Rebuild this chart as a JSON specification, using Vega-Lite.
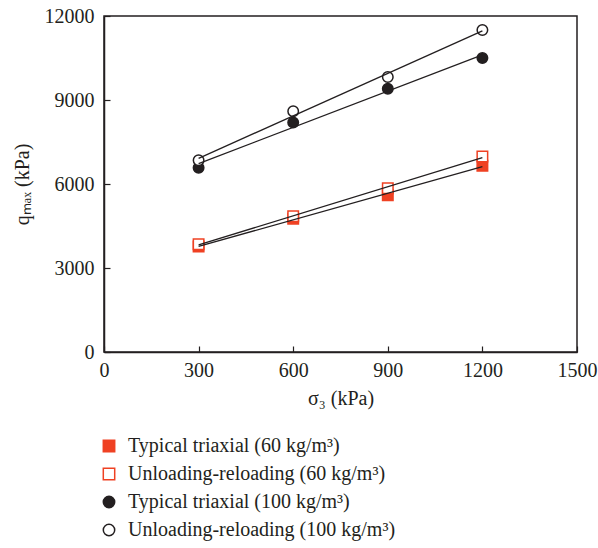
{
  "$schema": "https://vega.github.io/schema/vega-lite/v6.json",
  "width": 473,
  "height": 336,
  "autosize": {"type": "none"},
  "padding": {"left": 104, "top": 16, "right": 21, "bottom": 196},
  "background": "white",
  "config": {
    "view": {"stroke": "#231f20", "strokeWidth": 1.5},
    "axis": {
      "grid": false,
      "domainColor": "#231f20",
      "domainWidth": 1.5,
      "tickColor": "#231f20",
      "tickWidth": 1.2,
      "tickSize": -6,
      "labelFont": "Liberation Serif",
      "labelFontSize": 20,
      "labelColor": "#231f20",
      "labelFlush": false,
      "labelOverlap": false,
      "titleFont": "Liberation Serif",
      "titleFontSize": 20,
      "titleFontWeight": "normal",
      "titleColor": "#231f20",
      "format": "d"
    },
    "legend": {
      "labelFont": "Liberation Serif",
      "labelFontSize": 20,
      "labelColor": "#231f20",
      "symbolStrokeWidth": 1.5,
      "symbolSize": 130,
      "rowPadding": 8,
      "labelOffset": 9,
      "labelLimit": 400
    }
  },
  "data": {
    "values": [
      {"sigma3": 300, "qmax": 3770, "series": "Typical triaxial (60 kg/m³)"},
      {"sigma3": 600, "qmax": 4760, "series": "Typical triaxial (60 kg/m³)"},
      {"sigma3": 900, "qmax": 5600, "series": "Typical triaxial (60 kg/m³)"},
      {"sigma3": 1200, "qmax": 6650, "series": "Typical triaxial (60 kg/m³)"},
      {"sigma3": 300, "qmax": 3850, "series": "Unloading-reloading (60 kg/m³)"},
      {"sigma3": 600, "qmax": 4850, "series": "Unloading-reloading (60 kg/m³)"},
      {"sigma3": 900, "qmax": 5850, "series": "Unloading-reloading (60 kg/m³)"},
      {"sigma3": 1200, "qmax": 6980, "series": "Unloading-reloading (60 kg/m³)"},
      {"sigma3": 300, "qmax": 6580, "series": "Typical triaxial (100 kg/m³)"},
      {"sigma3": 600, "qmax": 8200, "series": "Typical triaxial (100 kg/m³)"},
      {"sigma3": 900, "qmax": 9400, "series": "Typical triaxial (100 kg/m³)"},
      {"sigma3": 1200, "qmax": 10500, "series": "Typical triaxial (100 kg/m³)"},
      {"sigma3": 300, "qmax": 6850, "series": "Unloading-reloading (100 kg/m³)"},
      {"sigma3": 600, "qmax": 8600, "series": "Unloading-reloading (100 kg/m³)"},
      {"sigma3": 900, "qmax": 9820, "series": "Unloading-reloading (100 kg/m³)"},
      {"sigma3": 1200, "qmax": 11500, "series": "Unloading-reloading (100 kg/m³)"}
    ]
  },
  "layer": [
    {
      "mark": {"type": "point", "filled": true, "strokeWidth": 1.5, "opacity": 1, "size": 110},
      "encoding": {
        "x": {"field": "sigma3", "type": "quantitative", "scale": {"domain": [0, 1500], "nice": false},
          "axis": {"values": [0, 300, 600, 900, 1200, 1500], "title": "σ₃ (kPa)", "labelPadding": 14, "titlePadding": 8}},
        "y": {"field": "qmax", "type": "quantitative", "scale": {"domain": [0, 12000], "nice": false},
          "axis": {"values": [0, 3000, 6000, 9000, 12000], "title": "qₘₐₓ (kPa)", "labelPadding": 16, "titlePadding": 12}},
        "shape": {"field": "series", "type": "nominal",
          "scale": {"domain": ["Typical triaxial (60 kg/m³)", "Unloading-reloading (60 kg/m³)", "Typical triaxial (100 kg/m³)", "Unloading-reloading (100 kg/m³)"],
            "range": ["square", "square", "circle", "circle"]},
          "legend": {"orient": "none", "legendX": -5, "legendY": 420, "title": null}},
        "fill": {"field": "series", "type": "nominal",
          "scale": {"domain": ["Typical triaxial (60 kg/m³)", "Unloading-reloading (60 kg/m³)", "Typical triaxial (100 kg/m³)", "Unloading-reloading (100 kg/m³)"],
            "range": ["#ef4123", "#ffffff", "#231f20", "#ffffff"]},
          "legend": {"orient": "none", "legendX": -5, "legendY": 420, "title": null}},
        "stroke": {"field": "series", "type": "nominal",
          "scale": {"domain": ["Typical triaxial (60 kg/m³)", "Unloading-reloading (60 kg/m³)", "Typical triaxial (100 kg/m³)", "Unloading-reloading (100 kg/m³)"],
            "range": ["#ef4123", "#ef4123", "#231f20", "#231f20"]},
          "legend": {"orient": "none", "legendX": -5, "legendY": 420, "title": null}}
      }
    },
    {
      "transform": [
        {"regression": "qmax", "on": "sigma3", "groupby": ["series"], "extent": [300, 1200]}
      ],
      "mark": {"type": "line", "color": "#231f20", "strokeWidth": 1.3},
      "encoding": {
        "x": {"field": "sigma3", "type": "quantitative"},
        "y": {"field": "qmax", "type": "quantitative"},
        "detail": {"field": "series", "type": "nominal"}
      }
    }
  ]
}
